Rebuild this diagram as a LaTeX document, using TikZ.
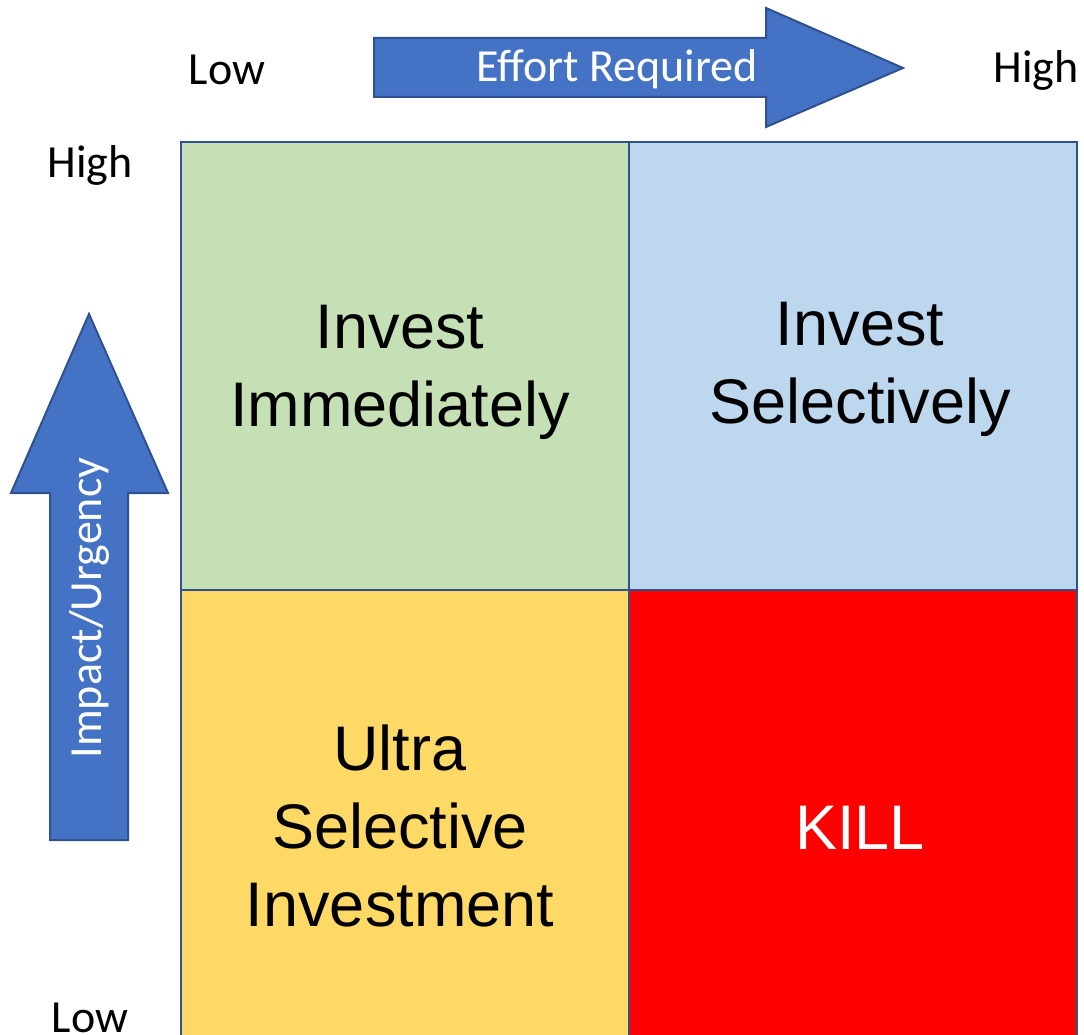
\documentclass[tikz,border=0pt]{standalone}
\usepackage{fontspec}
\setmainfont{Carlito}
\newfontfamily\quadfont{Liberation Sans}
\definecolor{gridline}{HTML}{2F528F}
\definecolor{arrowfill}{HTML}{4472C4}
\definecolor{qgreen}{HTML}{C5E0B4}
\definecolor{qblue}{HTML}{BDD7EE}
\definecolor{qyellow}{HTML}{FFD966}
\definecolor{qred}{HTML}{FF0000}
\tikzset{
  quad/.style={draw=gridline, line width=2.5pt, inner sep=0pt, outer sep=0pt,
    minimum width=448pt, minimum height=448pt, anchor=north west},
  quadtext/.style={align=center, inner sep=0pt, font=\quadfont\fontsize{63}{78}\selectfont},
  axisarrow/.style={draw=gridline, fill=arrowfill, line width=2pt, line join=miter},
  axislabel/.style={font=\fontsize{46}{55}\selectfont, text=white, inner sep=0pt},
  endlabel/.style={font=\fontsize{46}{55}\selectfont, inner sep=0pt}
}
\begin{document}
\begin{tikzpicture}[x=1pt,y=-1pt]
\useasboundingbox (0,0) rectangle (1084,1035);
\clip (0,0) rectangle (1084,1035);

% quadrants
\node[quad, fill=qgreen]  (ii) at (181,142) {};
\node[quad, fill=qblue]   (is) at (629,142) {};
\node[quad, fill=qyellow, minimum height=476pt] (us) at (181,590) {};
\node[quad, fill=qred, minimum height=476pt] (kl) at (629,590) {};

% quadrant captions
\node[quadtext] (iitext) at ([shift={(-5,6)}]ii.center) {Invest\\Immediately};
\node[quadtext] (istext) at ([shift={(7,3)}]is.center) {Invest\\Selectively};
\node[quadtext] (ustext) at ([shift={(-5,-2)}]us.center) {Ultra\\Selective\\Investment};
\node[quadtext, text=white] (kltext) at ([shift={(7,0)}]kl.center) {KILL};

% horizontal axis arrow
\draw[axisarrow] (374,38) -- (766,38) -- (766,8) -- (903,68) -- (766,127)
  -- (766,97) -- (374,97) -- cycle;
\node[axislabel] (effort) at (617,69) {Effort Required};

% vertical axis arrow
\draw[axisarrow] (50,840) -- (50,493) -- (11,493) -- (89,314) -- (168,493)
  -- (128,493) -- (128,840) -- cycle;
\node[axislabel, rotate=90] (impact) at (89,608) {Impact/Urgency};

% axis end labels
\node[endlabel] (xlow)  at (227,70)  {Low};
\node[endlabel] (xhigh) at (1036,70) {High};
\node[endlabel] (yhigh) at (90,165)  {High};
\node[endlabel] (ylow)  at (90,1018) {Low};
\end{tikzpicture}
\end{document}
